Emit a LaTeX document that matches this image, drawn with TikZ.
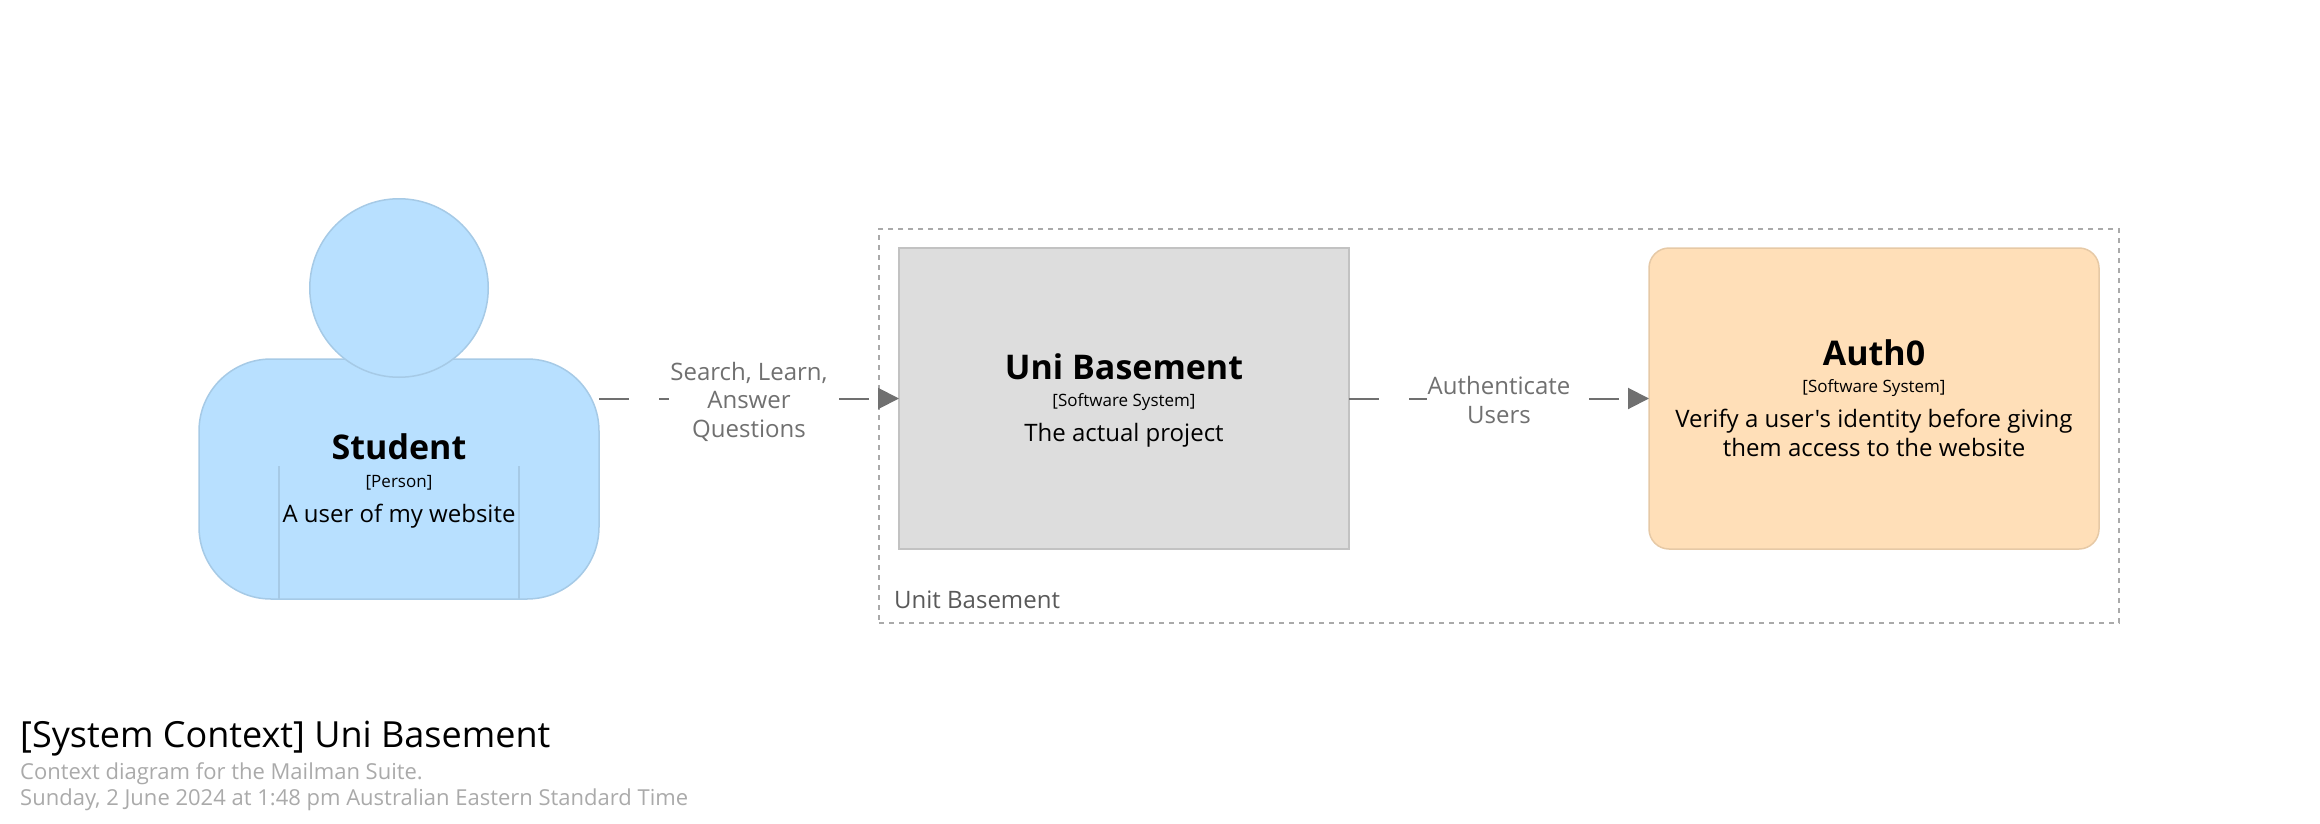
\documentclass[tikz,border=0pt]{standalone}
\usepackage{fontspec}
\usepackage{xcolor}
\setmainfont[Ligatures=TeXOff]{Open Sans}
\usetikzlibrary{positioning,arrows.meta}

\definecolor{personfill}{HTML}{B8E0FF}
\definecolor{personedge}{HTML}{A6CAE6}
\definecolor{sysfill}{HTML}{DDDDDD}
\definecolor{sysedge}{HTML}{C2C2C2}
\definecolor{extfill}{HTML}{FFDFB8}
\definecolor{extedge}{HTML}{E6C9A6}
\definecolor{relgray}{HTML}{707070}
\definecolor{metagray}{HTML}{AAAAAA}

\newcommand{\elname}[1]{\rule{0pt}{33pt}{\bfseries\fontsize{34}{28.5}\selectfont #1}}
\newcommand{\elmeta}[1]{{\fontsize{17}{28.5}\selectfont #1}}
\newcommand{\elend}{\rule[-9pt]{0pt}{9pt}}

\tikzset{
    elbox/.style={outer sep=0pt, inner sep=0pt, align=center, text=black, line width=1.5pt,
        font=\fontsize{24}{28.5}\selectfont},
    softsys/.style={elbox, draw=sysedge, fill=sysfill, minimum width=450pt, minimum height=301pt},
    extsys/.style={elbox, draw=extedge, fill=extfill, minimum width=450pt, minimum height=301pt,
        rounded corners=20pt},
    personbody/.style={elbox, draw=personedge, fill=personfill, minimum width=400pt,
        minimum height=240pt, rounded corners=72pt},
    personhead/.style={circle, draw=personedge, fill=personfill, line width=1.5pt,
        minimum size=178.5pt, inner sep=0pt, outer sep=0pt},
    personrib/.style={draw=personedge, line width=1.5pt},
    groupbox/.style={draw=metagray, dash pattern=on 5pt off 5pt, line width=2pt,
        minimum width=1240pt, minimum height=394pt, outer sep=0pt, inner sep=0pt},
    grouplabel/.style={anchor=base west, inner sep=0pt, text=black!65,
        font=\fontsize{24}{28.5}\selectfont},
    rel/.style={draw=relgray, line width=2pt, dash pattern=on 30pt off 30pt,
        -{Triangle[length=21pt,width=21pt]}},
    rellabel/.style={midway, fill=white, inner ysep=0pt, inner xsep=1pt, text=relgray, align=center,
        font=\fontsize{24}{28.5}\selectfont},
    titletext/.style={anchor=base west, inner sep=0pt, text=black,
        font=\fontsize{36}{40}\selectfont},
    subtext/.style={anchor=base west, inner sep=0pt, text=metagray,
        font=\fontsize{22}{28}\selectfont},
}

\begin{document}
\begin{tikzpicture}[x=1pt, y=-1pt]
    \useasboundingbox (0,0) rectangle (2320,824);

    % Group
    \node[groupbox] (unitgroup) at (1499,426) {};
    \node[grouplabel] (unitlabel) at (894,608) {Unit Basement};

    % Person
    \node[personbody] (student) at (399,479) {\elname{Student}\\[-1pt]
        \elmeta{[Person]}\\[6.5pt] A user of my website\elend};
    \node[personhead] (studenthead) at (399,288) {};
    \draw[personrib] ([xshift=-120pt]student.south) -- ++(0,-133);
    \draw[personrib] ([xshift=120pt]student.south) -- ++(0,-133);

    % Systems
    \node[softsys] (basement) at (1124,398.5) {\elname{Uni Basement}\\[-1pt]
        \elmeta{[Software System]}\\[6.5pt] The actual project\elend};
    \node[extsys] (auth) at (1874,398.5) {\elname{Auth0}\\[-1pt]
        \elmeta{[Software System]}\\[6.5pt] Verify a user's identity before giving\\
        them access to the website\elend};

    % Relationships
    \draw[rel] (student.east |- basement.west) -- (basement.west)
        node[rellabel, yshift=-3pt] (searchlabel) {Search, Learn,\\Answer\\Questions};
    \draw[rel] (basement.east) -- (auth.west)
        node[rellabel, yshift=-1.5pt] (authlabel) {Authenticate\\Users};

    % Title
    \node[titletext] (title) at (20,747) {[System Context] Uni Basement};
    \node[subtext] (subone) at (20,779) {Context diagram for the Mailman Suite.};
    \node[subtext] (subtwo) at (20,805) {Sunday, 2 June 2024 at 1:48 pm Australian Eastern Standard Time};
\end{tikzpicture}
\end{document}
